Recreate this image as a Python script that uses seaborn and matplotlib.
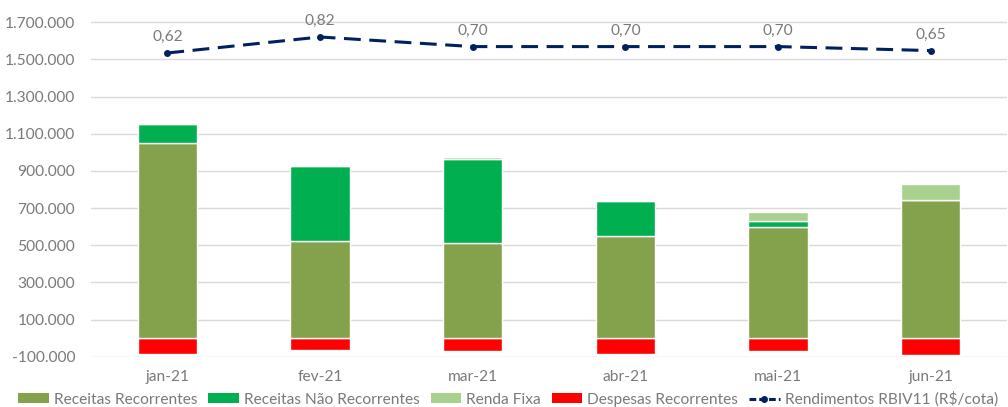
import numpy as np
import pandas as pd
import matplotlib
matplotlib.use("Agg")
import matplotlib.pyplot as plt
from matplotlib.lines import Line2D
from matplotlib.patches import Patch
import matplotlib.ticker as mticker
import seaborn as sns

# ---- data ----
months = ["jan-21", "fev-21", "mar-21", "abr-21", "mai-21", "jun-21"]
receitas_recorrentes = [1052000, 524000, 510000, 550000, 596000, 742000]
receitas_nao_recorrentes = [100000, 401000, 452000, 188000, 33000, 0]
renda_fixa = [0, 0, 13000, 0, 48000, 86000]
despesas_recorrentes = [-86000, -64000, -69000, -87000, -69000, -89000]
rendimentos = [0.62, 0.82, 0.70, 0.70, 0.70, 0.65]
rendimentos_labels = ["0,62", "0,82", "0,70", "0,70", "0,70", "0,65"]

series_names = ["Receitas Recorrentes", "Receitas Não Recorrentes", "Renda Fixa",
                "Despesas Recorrentes"]
line_name = "Rendimentos RBIV11 (R$/cota)"

c_olive = "#84A24C"
c_green = "#00B050"
c_light = "#A9D18E"
c_red = "#FF0000"
c_navy = "#002060"
c_text = "#7A7A7A"
c_grid = "#D9D9D9"

sns.set_theme(style="white")
plt.rcParams["font.family"] = ["Lato", "DejaVu Sans"]

fs = 11.2

fig = plt.figure(figsize=(10.08, 4.07), dpi=100)
ax = fig.add_axes([91 / 1008, 1 - 356.7 / 407, (1007 - 91) / 1008, (356.7 - 3.7) / 407])

df = pd.DataFrame({
    "mes": months,
    "rr": receitas_recorrentes,
    "nr": receitas_nao_recorrentes,
    "rf": renda_fixa,
    "dr": despesas_recorrentes,
})
bw = 0.39
b1 = np.array(receitas_recorrentes, dtype=float)
b2 = b1 + np.array(receitas_nao_recorrentes, dtype=float)

common = dict(ax=ax, width=bw, edgecolor="white", linewidth=1.0, errorbar=None, zorder=3)
sns.barplot(data=df, x="mes", y="dr", color=c_red, saturation=1, **common)
sns.barplot(data=df, x="mes", y="rr", color=c_olive, saturation=1, **common)
sns.barplot(data=df, x="mes", y="nr", bottom=b1, color=c_green, saturation=1, **common)
sns.barplot(data=df, x="mes", y="rf", bottom=b2, color=c_light, saturation=1, **common)

ax.set_xlim(-0.5, len(months) - 0.5)
ax.set_ylim(-100000, 1800000)
ax.yaxis.set_major_locator(mticker.FixedLocator(np.arange(-100000, 1800001, 200000)))
ax.yaxis.set_major_formatter(mticker.FuncFormatter(lambda v, p: f"{int(v):,}".replace(",", ".")))
ax.grid(axis="y", color=c_grid, linewidth=1.0, zorder=0)
ax.set_axisbelow(True)
for s in ax.spines.values():
    s.set_visible(False)
ax.set_xlabel("")
ax.set_ylabel("")
ax.tick_params(axis="y", length=0, pad=11.5, labelsize=fs, labelcolor=c_text)
ax.tick_params(axis="x", length=0, pad=9.5, labelsize=fs, labelcolor=c_text)

# ---- secondary axis line ----
ax2 = ax.twinx()
ldf = pd.DataFrame({"pos": np.arange(len(months)), "v": rendimentos})
sns.lineplot(data=ldf, x="pos", y="v", ax=ax2, color=c_navy, linewidth=2.2,
             linestyle=(0, (5.5, 2.8)), marker="o", markersize=5, markeredgewidth=0, zorder=5)
ax2.set_ylim(-3.176, 1.236)
ax2.set_xlim(-0.5, len(months) - 0.5)
ax2.axis("off")
for i, (v, lab) in enumerate(zip(rendimentos, rendimentos_labels)):
    ax2.annotate(lab, (i, v), xytext=(0, 6.5), textcoords="offset points",
                 ha="center", va="bottom", fontsize=fs, color=c_text)

# ---- legend ----
handles = [Patch(facecolor=c, edgecolor="none") for c in (c_olive, c_green, c_light, c_red)]
handles.append(Line2D([0], [0], color=c_navy, linewidth=2.2, linestyle=(0, (2.2, 1)),
                      marker="o", markersize=5, markeredgewidth=0))
fig.legend(handles, series_names + [line_name], loc="center", bbox_to_anchor=(0.504, 1 - 399 / 407),
           ncol=5, frameon=False, fontsize=fs, labelcolor=c_text, handlelength=1.95,
           handleheight=0.55, handletextpad=0.32, columnspacing=0.72, borderaxespad=0,
           borderpad=0)

fig.savefig("out.png", dpi=100)
